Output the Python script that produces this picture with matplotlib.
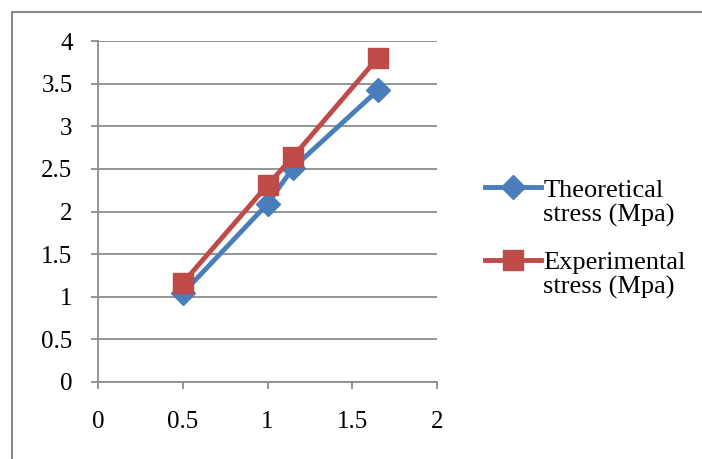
import matplotlib.pyplot as plt
from matplotlib.patches import Rectangle
from matplotlib.legend_handler import HandlerLine2D

x_vals = [0.5, 1.0, 1.15, 1.65]
theoretical = [1.04, 2.09, 2.51, 3.42]
experimental = [1.16, 2.31, 2.64, 3.80]
x_ticks = [0, 0.5, 1, 1.5, 2]
y_ticks = [0, 0.5, 1, 1.5, 2, 2.5, 3, 3.5, 4]

plt.rcParams["font.family"] = ["Liberation Serif", "DejaVu Serif"]


class FirstLineHandler(HandlerLine2D):
    # put the legend key next to the first line of a two-line label
    def create_artists(self, legend, orig_handle, xdescent, ydescent,
                       width, height, fontsize, trans):
        return super().create_artists(legend, orig_handle, xdescent,
                                      ydescent - 22, width, height,
                                      fontsize, trans)


fig = plt.figure(figsize=(7.02, 4.59), dpi=100)
ax = fig.add_axes([98 / 702, 1 - 382 / 459, 339 / 702, 341 / 459])

blue = "#4a7ebb"
red = "#be4b48"
grid_c = "#8c8c8c"

l1, = ax.plot(x_vals, theoretical, color=blue, lw=3.5, marker="D", ms=12,
              label="Theoretical\nstress (Mpa)", zorder=3)
l2, = ax.plot(x_vals, experimental, color=red, lw=3.5, marker="s", ms=14,
              label="Experimental\nstress (Mpa)", zorder=3)

ax.set_xlim(0, 2)
ax.set_ylim(0, 4)
ax.set_xticks(x_ticks)
ax.set_xticklabels(["0", "0.5", "1", "1.5", "2"])
ax.set_yticks(y_ticks)
ax.set_yticklabels(["0", "0.5", "1", "1.5", "2", "2.5", "3", "3.5", "4"])
ax.yaxis.grid(True, color=grid_c, lw=1.3)
ax.set_axisbelow(True)
for s in ["top", "right"]:
    ax.spines[s].set_visible(False)
for s in ["left", "bottom"]:
    ax.spines[s].set_color(grid_c)
    ax.spines[s].set_linewidth(1.3)
ax.tick_params(axis="both", colors=grid_c, labelcolor="black", labelsize=18,
               length=4.8, width=1.3)
ax.tick_params(axis="x", pad=16)
ax.tick_params(axis="y", pad=13.5)

leg = ax.legend(loc="upper left", bbox_to_anchor=(472 / 702, 1 - 167 / 459),
                bbox_transform=fig.transFigure, frameon=False, fontsize=19,
                handlelength=2.1, handletextpad=0.1, labelspacing=0.98,
                borderpad=0,
                handler_map={l1: FirstLineHandler(), l2: FirstLineHandler()})
for t in leg.get_texts():
    t.set_linespacing(1.07)

# outer chart frame (cropped on right and bottom)
fig.patches.append(Rectangle((12 / 702, -0.1), 1.2, 1.1 - 12 / 459,
                             transform=fig.transFigure, fill=False,
                             edgecolor="#8a8a8a", lw=1.5, zorder=0))

fig.savefig("out.png", dpi=100)
